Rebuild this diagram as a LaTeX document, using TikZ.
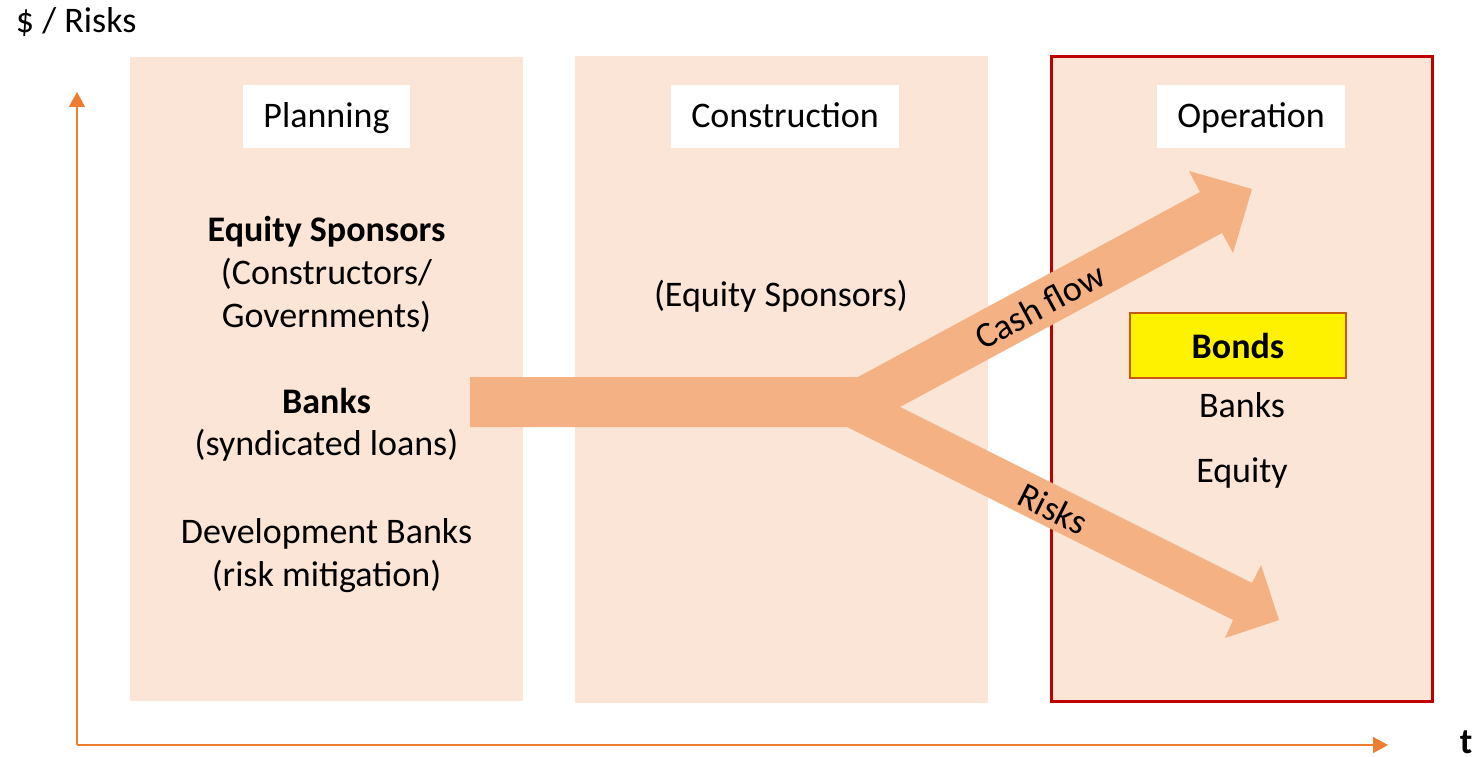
\documentclass[tikz,border=0pt]{standalone}
\usepackage{fontspec}
\setmainfont{Carlito}
\usetikzlibrary{arrows.meta}
\definecolor{panelfill}{HTML}{FBE5D6}
\definecolor{flowfill}{HTML}{F4B183}
\definecolor{axiscol}{HTML}{ED7D31}
\definecolor{framered}{HTML}{C00000}
\definecolor{bondedge}{HTML}{C55A11}
\begin{document}
\begin{tikzpicture}[x=1pt,y=-1pt,
  every node/.style={font=\fontsize{36}{43}\selectfont, inner sep=0pt, outer sep=0pt},
  panel/.style={fill=panelfill, draw=none, anchor=north west},
  labelbox/.style={fill=white, draw=none, anchor=north west},
  txt/.style={anchor=base},
  axis/.style={draw=axiscol, line width=1.6pt, -{Triangle[length=15pt,width=16pt]}},
  flow/.style={fill=flowfill}]
\useasboundingbox (0,0) rectangle (1476,757);

% phase panels
\node[panel, minimum width=393pt, minimum height=644pt] (plan) at (130,57) {};
\node[panel, minimum width=413pt, minimum height=647pt] (cons) at (575,56) {};
\node[panel, draw=framered, line width=3pt, minimum width=381pt, minimum height=644pt] (oper) at (1051,57) {};

% phase titles
\node[labelbox, minimum width=167pt, minimum height=63pt] (planbox) at (243,85) {};
\node[labelbox, minimum width=228pt, minimum height=63pt] (consbox) at (671,85) {};
\node[labelbox, minimum width=188pt, minimum height=63pt] (operbox) at (1157,85) {};
\node[txt] (plantitle) at (326.5,128) {Planning};
\node[txt] (constitle) at (785,128) {Construction};
\node[txt] (opertitle) at (1251,128) {Operation};

% axes
\coordinate (origin) at (77,745);
\coordinate (ytip) at (77,92);
\coordinate (xtip) at (1388,745);
\draw[axis] (origin) -- (ytip);
\draw[axis] (origin) -- (xtip);
\node[anchor=base west] (ylabel) at (16,33) {\$ / Risks};
\node[anchor=base] (xlabel) at (1466,753) {\bfseries t};

% forking flow arrow
\fill[flow] (470,377) -- (858,377) -- (1200,192) -- (1189,171) -- (1252,189)
  -- (1233,253) -- (1222,233) -- (900,407) -- (1252,583) -- (1261,565)
  -- (1279,620) -- (1225,638) -- (1233,620) -- (847,427) -- (470,427) -- cycle;
\node[rotate=28.4] (cash) at (1040,306) {Cash flow};
\node[rotate=-26.6] (risk) at (1053,509) {Risks};

% planning phase financiers
\node[txt] (eq1) at (326.5,241) {\bfseries Equity Sponsors};
\node[txt] (eq2) at (326.5,284) {(Constructors/};
\node[txt] (eq3) at (326.5,327) {Governments)};
\node[txt] (bk1) at (326.5,413) {\bfseries Banks};
\node[txt] (bk2) at (326.5,455) {(syndicated loans)};
\node[txt] (db1) at (326.5,543) {Development Banks};
\node[txt] (db2) at (326.5,586) {(risk mitigation)};

% construction phase
\node[txt] (ceq) at (781,306) {(Equity Sponsors)};

% operation phase
\node[fill=yellow, draw=bondedge, line width=1.4pt, minimum width=216pt, minimum height=65pt] (bondbox) at (1238,345.5) {};
\node[txt] (bonds) at (1238,358) {\bfseries Bonds};
\node[txt] (obanks) at (1242,417) {Banks};
\node[txt] (oequity) at (1242,482) {Equity};
\end{tikzpicture}
\end{document}
